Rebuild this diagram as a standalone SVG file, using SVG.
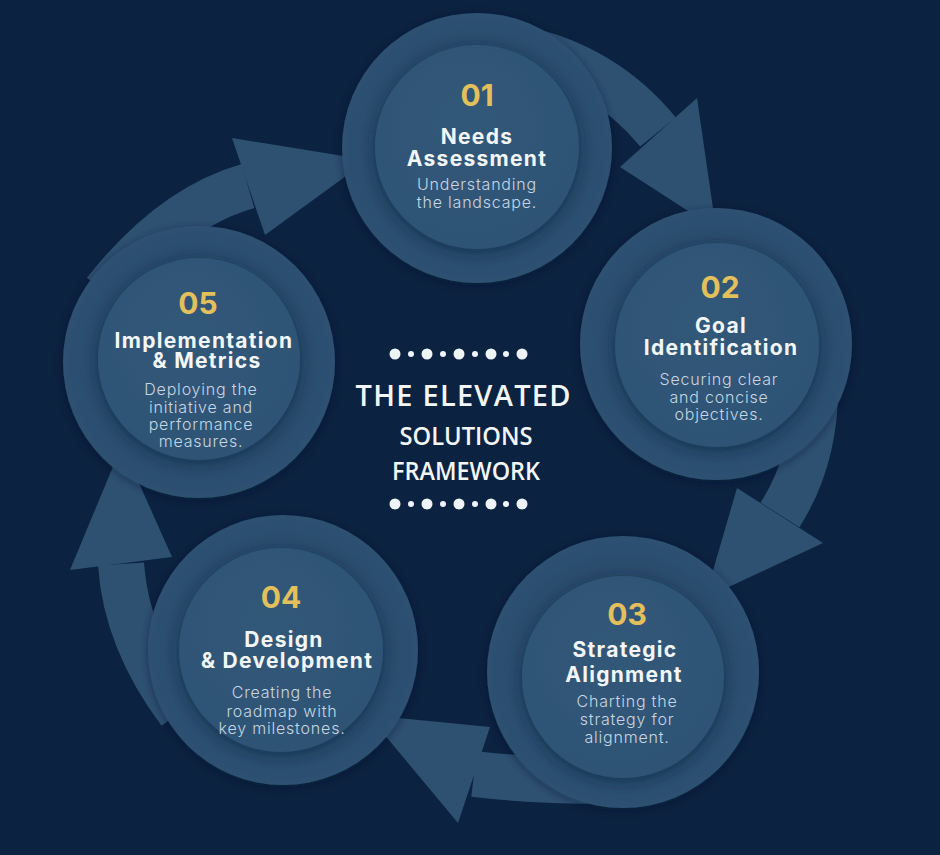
<svg xmlns="http://www.w3.org/2000/svg" width="940" height="855" viewBox="0 0 940 855">
  <defs>
    <radialGradient id="ringGrad" cx="50%" cy="50%" r="50%">
      <stop offset="0.7" stop-color="#2a4b6b"/>
      <stop offset="1" stop-color="#2d5172"/>
    </radialGradient>
    <radialGradient id="innerGrad" cx="45%" cy="40%" r="60%">
      <stop offset="0" stop-color="#325979"/>
      <stop offset="1" stop-color="#2e5375"/>
    </radialGradient>
    <filter id="innerShadow" x="-20%" y="-20%" width="140%" height="140%">
      <feGaussianBlur in="SourceAlpha" stdDeviation="7"/>
      <feOffset dx="0" dy="3" result="b"/>
      <feFlood flood-color="#0d2440" flood-opacity="0.6"/>
      <feComposite in2="b" operator="in"/>
      <feMerge><feMergeNode/><feMergeNode in="SourceGraphic"/></feMerge>
    </filter>
    <filter id="outerShadow" x="-20%" y="-20%" width="140%" height="140%">
      <feGaussianBlur in="SourceAlpha" stdDeviation="5"/>
      <feOffset dx="0" dy="2" result="b"/>
      <feFlood flood-color="#08182e" flood-opacity="0.45"/>
      <feComposite in2="b" operator="in"/>
      <feMerge><feMergeNode/><feMergeNode in="SourceGraphic"/></feMerge>
    </filter>
  </defs>
  <style>
    .band { fill: none; stroke: #2e5172; stroke-width: 46; }
    .head { fill: #2e5172; }
    .outer { fill: url(#ringGrad); filter: url(#outerShadow); }
    .inner { fill: url(#innerGrad); filter: url(#innerShadow); }
    .num { font-family: Inter, "Noto Sans", sans-serif; font-weight: 700; font-size: 30px; fill: #e3c05b; text-anchor: middle; }
    .ttl { font-family: Inter, "Noto Sans", sans-serif; font-weight: 700; font-size: 21px; letter-spacing: 1.3px; fill: #f3f6f9; text-anchor: middle; }
    .dsc { font-family: Inter, "Noto Sans", sans-serif; font-weight: 300; font-size: 16px; letter-spacing: 0.8px; fill: #c8d5e2; text-anchor: middle; }
    .main { font-family: "Open Sans", "Noto Sans", sans-serif; font-weight: 600; fill: #f3f6f9; text-anchor: middle; }
    .dot { fill: #eef3f8; }
  </style>
  <rect width="940" height="855" fill="#0b2240"/>

  <g id="connectors">
    <g id="arrow-1-2">
      <path class="band" d="M 518 48 Q 604 66 658 132"/>
      <polygon class="head" points="697,98 716,229 620,167"/>
    </g>
    <g id="arrow-2-3">
      <path class="band" d="M 815 375 Q 818 455 780 515"/>
      <polygon class="head" points="823,543 705,598 737,488"/>
    </g>
    <g id="arrow-3-4">
      <path class="band" d="M 650 780 Q 550 783 474 774"/>
      <polygon class="head" points="490,727 368,715 458,823"/>
    </g>
    <g id="arrow-4-5">
      <path class="band" d="M 180 712 Q 126 640 121 564"/>
      <polygon class="head" points="70,570 122,445 172,557"/>
    </g>
    <g id="arrow-5-1">
      <path class="band" d="M 105 292 Q 171 208 248 186"/>
      <polygon class="head" points="232,138 368,160 265,235"/>
    </g>
  </g>

  <g id="node-01">
    <circle class="outer" cx="477" cy="148" r="135"/>
    <circle class="inner" cx="477" cy="147" r="102"/>
    <text class="num" x="477" y="106">01</text>
    <text class="ttl" x="477" y="144">Needs</text>
    <text class="ttl" x="477" y="166">Assessment</text>
    <text class="dsc" x="477" y="190">Understanding</text>
    <text class="dsc" x="477" y="208">the landscape.</text>
  </g>

  <g id="node-02">
    <circle class="outer" cx="716" cy="344" r="136"/>
    <circle class="inner" cx="717" cy="345" r="102"/>
    <text class="num" x="720" y="298">02</text>
    <text class="ttl" x="721" y="333">Goal</text>
    <text class="ttl" x="721" y="355">Identification</text>
    <text class="dsc" x="719" y="385">Securing clear</text>
    <text class="dsc" x="719" y="403">and concise</text>
    <text class="dsc" x="719" y="420">objectives.</text>
  </g>

  <g id="node-03">
    <circle class="outer" cx="623" cy="672" r="136"/>
    <circle class="inner" cx="623" cy="677" r="101"/>
    <text class="num" x="627" y="625">03</text>
    <text class="ttl" x="625" y="657">Strategic</text>
    <text class="ttl" x="624" y="682">Alignment</text>
    <text class="dsc" x="627" y="707">Charting the</text>
    <text class="dsc" x="627" y="725">strategy for</text>
    <text class="dsc" x="627" y="743">alignment.</text>
  </g>

  <g id="node-04">
    <circle class="outer" cx="283" cy="650" r="135"/>
    <circle class="inner" cx="281" cy="650" r="102"/>
    <text class="num" x="281" y="608">04</text>
    <text class="ttl" x="284" y="647">Design</text>
    <text class="ttl" x="287" y="668">&amp; Development</text>
    <text class="dsc" x="282" y="698">Creating the</text>
    <text class="dsc" x="282" y="717">roadmap with</text>
    <text class="dsc" x="282" y="734">key milestones.</text>
  </g>

  <g id="node-05">
    <circle class="outer" cx="199" cy="362" r="136"/>
    <circle class="inner" cx="199" cy="359" r="101"/>
    <text class="num" x="198" y="314">05</text>
    <text class="ttl" x="204" y="348">Implementation</text>
    <text class="ttl" x="207" y="368">&amp; Metrics</text>
    <text class="dsc" x="201" y="395">Deploying the</text>
    <text class="dsc" x="201" y="413">initiative and</text>
    <text class="dsc" x="201" y="430">performance</text>
    <text class="dsc" x="201" y="447">measures.</text>
  </g>

  <g id="center-title">
    <g id="dots-top">
      <circle class="dot" cx="395" cy="354" r="5.5"/>
      <circle class="dot" cx="411" cy="354" r="3"/>
      <circle class="dot" cx="427" cy="354" r="5.5"/>
      <circle class="dot" cx="443" cy="354" r="3"/>
      <circle class="dot" cx="459" cy="354" r="5.5"/>
      <circle class="dot" cx="475" cy="354" r="3"/>
      <circle class="dot" cx="491" cy="354" r="5.5"/>
      <circle class="dot" cx="506" cy="354" r="3"/>
      <circle class="dot" cx="522" cy="354" r="5.5"/>
    </g>
    <text class="main" x="463" y="406" font-size="29" textLength="215" lengthAdjust="spacing">THE ELEVATED</text>
    <text class="main" x="466" y="445" font-size="25" textLength="133" lengthAdjust="spacingAndGlyphs">SOLUTIONS</text>
    <text class="main" x="466" y="480" font-size="25" textLength="148" lengthAdjust="spacingAndGlyphs">FRAMEWORK</text>
    <g id="dots-bottom">
      <circle class="dot" cx="395" cy="504" r="5.5"/>
      <circle class="dot" cx="411" cy="504" r="3"/>
      <circle class="dot" cx="427" cy="504" r="5.5"/>
      <circle class="dot" cx="443" cy="504" r="3"/>
      <circle class="dot" cx="459" cy="504" r="5.5"/>
      <circle class="dot" cx="475" cy="504" r="3"/>
      <circle class="dot" cx="491" cy="504" r="5.5"/>
      <circle class="dot" cx="506" cy="504" r="3"/>
      <circle class="dot" cx="522" cy="504" r="5.5"/>
    </g>
  </g>
</svg>
